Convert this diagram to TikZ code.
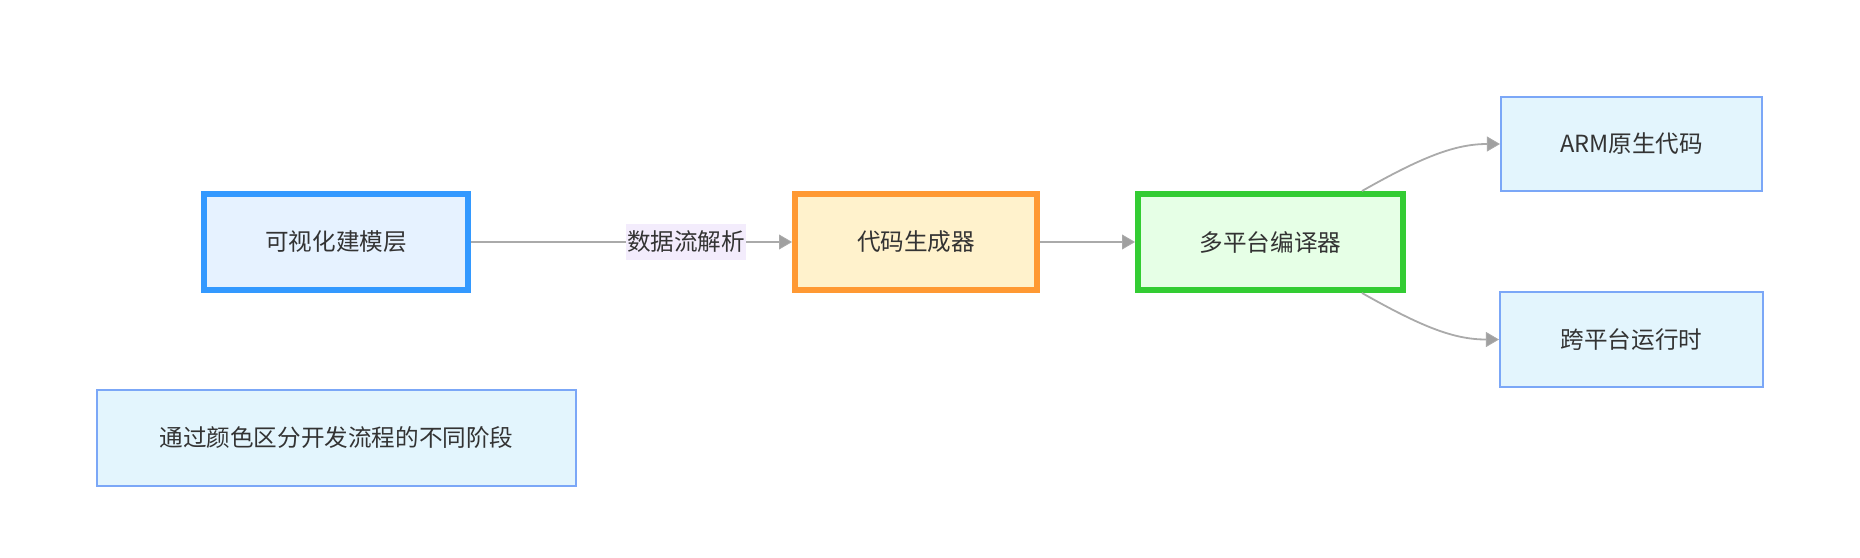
\documentclass[tikz,border=0pt]{standalone}
\usepackage{fontspec}
\setmainfont{Noto Sans CJK SC}
\usetikzlibrary{arrows.meta}
\definecolor{txt}{HTML}{333333}
\definecolor{edgec}{HTML}{AAAAAA}
\definecolor{tipc}{HTML}{A0A0A0}
\definecolor{afill}{HTML}{E6F2FF}\definecolor{adraw}{HTML}{3399FF}
\definecolor{bfill}{HTML}{FFF2CC}\definecolor{bdraw}{HTML}{FF9933}
\definecolor{cfill}{HTML}{E6FFE6}\definecolor{cdraw}{HTML}{33CC33}
\definecolor{nfill}{HTML}{E3F5FD}\definecolor{ndraw}{HTML}{7BA7F7}
\definecolor{lblfill}{HTML}{F3ECFC}
\tikzset{
  base/.style={rectangle, inner sep=0pt, align=center, text=txt,
    font=\fontsize{23.6}{28}\selectfont},
  thickbox/.style={base, line width=5.7pt, minimum height=96.3pt},
  thinbox/.style={base, line width=1.6pt, draw=ndraw, fill=nfill, minimum height=95pt},
  conn/.style={draw=edgec, line width=1.8pt,
    -{Triangle[length=13pt,width=15pt,fill=tipc,line width=0.8pt]}},
  lbl/.style={base, fill=lblfill, inner xsep=1pt, minimum height=36pt}
}
\begin{document}
\begin{tikzpicture}[x=1pt,y=-1pt]
\useasboundingbox (0,0) rectangle (1860,557);
\node[thickbox, draw=adraw, fill=afill, minimum width=264.3pt] (A) at (336,242) {可视化建模层};
\node[thickbox, draw=bdraw, fill=bfill, minimum width=242.3pt] (B) at (916,242) {代码生成器};
\node[thickbox, draw=cdraw, fill=cfill, minimum width=265.3pt] (C) at (1270.5,242) {多平台编译器};
\node[thinbox, minimum width=261.5pt, minimum height=94.5pt] (D) at (1631.5,144) {ARM原生代码};
\node[thinbox, minimum width=263.5pt, minimum height=95.5pt] (E) at (1631.5,339.5) {跨平台运行时};
\node[thinbox, minimum width=479.5pt, minimum height=96.5pt] (F) at (336.5,438) {通过颜色区分开发流程的不同阶段};
\draw[conn] (A.east) -- node[lbl, pos=0.67] {数据流解析} (B.west);
\draw[conn] (B.east) -- (C.west);
\draw[conn] ([xshift=-44pt]C.north east) .. controls +(60,-34) and +(-45,0) .. (D.west);
\draw[conn] ([xshift=-44pt]C.south east) .. controls +(60,34) and +(-45,0) .. (E.west);
\end{tikzpicture}
\end{document}
